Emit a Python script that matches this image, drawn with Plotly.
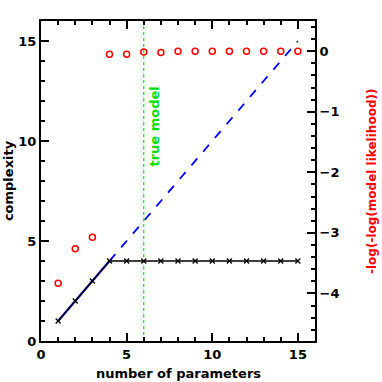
import plotly.graph_objects as go

# === Data ===
n_params = list(range(1, 16))
complexity = [1, 2, 3, 4, 4, 4, 4, 4, 4, 4, 4, 4, 4, 4, 4]
full_complexity = list(range(1, 16))          # y = number of parameters
loglike = [-3.83, -3.26, -3.07, -0.05, -0.05, -0.01, -0.02, 0.0,
           0.0, 0.0, 0.0, 0.0, 0.0, 0.0, 0.0]
true_model = 6

FAMILY = "DejaVu Sans, Verdana, sans-serif"
FONT = dict(family=FAMILY, size=13, color="black", weight="bold")

fig = go.Figure()

# blue line: solid up to the plateau, dashed beyond
fig.add_trace(go.Scatter(
    x=n_params[:4], y=full_complexity[:4], mode="lines",
    line=dict(color="blue", width=2.2), showlegend=False))
fig.add_trace(go.Scatter(
    x=n_params[3:], y=full_complexity[3:], mode="lines",
    line=dict(color="blue", width=1.8, dash="dash"), showlegend=False))

# true model marker line
fig.add_trace(go.Scatter(
    x=[true_model, true_model], y=[0, 16], mode="lines",
    line=dict(color="#00ee00", width=1.2, dash="dot"), showlegend=False))

# black complexity curve with x markers
fig.add_trace(go.Scatter(
    x=n_params, y=complexity, mode="lines+markers",
    line=dict(color="black", width=1.3),
    marker=dict(symbol="x-thin", size=5, line=dict(color="black", width=1.3)),
    showlegend=False))

# red likelihood circles on the right axis
fig.add_trace(go.Scatter(
    x=n_params, y=loglike, mode="markers", yaxis="y2",
    marker=dict(symbol="circle-open", size=6, color="red", line=dict(color="red", width=1.5)),
    showlegend=False))

# === Text ===
fig.add_annotation(
    x=6.57, y=10.7, text="true model", textangle=-90, showarrow=False,
    font=dict(family=FAMILY, size=13, color="#00dd00", weight="bold"))
fig.add_annotation(
    xref="paper", yref="paper", x=-0.12, y=0.5, text="complexity",
    textangle=-90, showarrow=False, xanchor="center", yanchor="middle", font=FONT)
fig.add_annotation(
    xref="paper", yref="paper", x=0.5, y=-0.1, text="number of parameters",
    showarrow=False, xanchor="center", yanchor="middle", font=FONT)
fig.add_annotation(
    xref="paper", yref="paper", x=1.208, y=0.5,
    text="-log(-log(model likelihood))", textangle=-90, showarrow=False,
    xanchor="center", yanchor="middle",
    font=dict(family=FAMILY, size=12, color="red", weight="bold"))

axis_common = dict(
    showline=True, linecolor="black", linewidth=2, showgrid=False, zeroline=False,
    ticks="inside", tickcolor="black", tickwidth=1.5, ticklen=8,
    tickfont=FONT, automargin=False,
)
minor_style = dict(ticks="inside", ticklen=4, tickcolor="black", tickwidth=1.5)

fig.update_layout(
    width=382, height=382,
    margin=dict(l=41, r=67, t=21, b=41),
    paper_bgcolor="white", plot_bgcolor="white",
    font=FONT,
    xaxis=dict(range=[0, 16], dtick=5, tick0=0, mirror="ticks",
               minor=dict(dtick=1, **minor_style), **axis_common),
    yaxis=dict(range=[0, 16], dtick=5, tick0=0,
               minor=dict(dtick=1, **minor_style), **axis_common),
    yaxis2=dict(overlaying="y", side="right",
                range=[-4.785, 0.5], dtick=1, tick0=0,
                minor=dict(dtick=0.2, **minor_style), **axis_common),
)

# drop the default 8px body margin so the figure fills the window
fig.write_html("out.html", config={"displayModeBar": False},
               post_script="document.body.style.margin='0';")
